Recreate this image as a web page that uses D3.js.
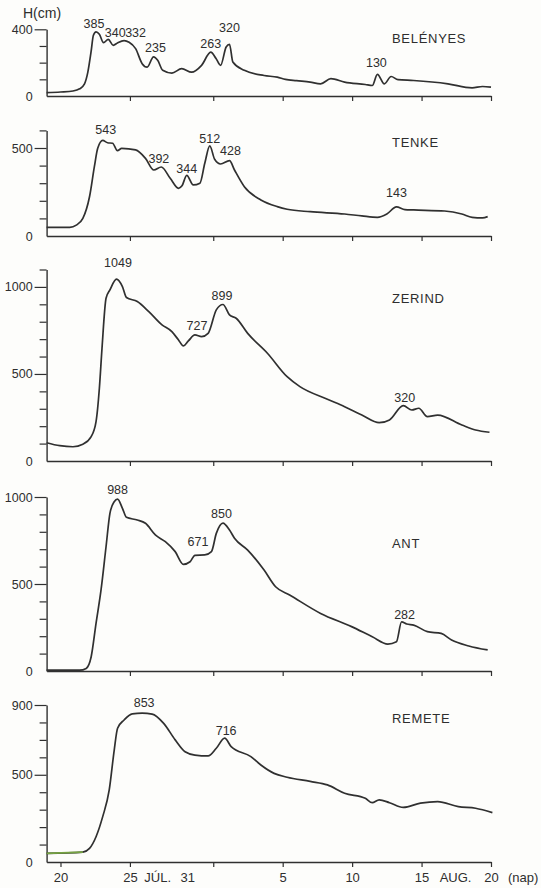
<!DOCTYPE html>
<html>
<head>
<meta charset="utf-8">
<script src="https://cdn.jsdelivr.net/npm/d3@7"></script>
<style>
  body { margin: 0; background: #fdfdfb; }
  svg { display: block; }
  text { font-family: "Liberation Sans", Arial, sans-serif; fill: #2e2e2e; }
</style>
</head>
<body>
<svg id="chart"></svg>
<script>
// days are counted from 1 July (so Aug 1 = 32, Aug 20 = 51)
// water level H in cm
const belenyes = [
  [19.0, 20], [20.0, 24], [20.9, 30], [21.38, 43], [21.73, 73], [21.97, 143], [22.2, 264],
  [22.37, 364], [22.56, 385], [22.8, 370], [23.1, 320], [23.44, 340], [23.8, 304], [24.1, 318],
  [24.58, 332], [24.94, 322], [25.41, 284], [25.88, 194], [26.24, 173], [26.7, 235], [27.0, 214],
  [27.36, 154], [28.02, 137], [28.73, 164], [29.44, 143], [30.16, 184], [30.82, 263], [31.2, 225],
  [31.53, 184], [31.93, 294], [32.17, 310], [32.41, 204], [33.24, 154], [34.66, 123], [35.61, 113],
  [36.2, 100], [37.0, 92], [37.98, 83], [38.73, 73], [39.47, 104], [40.46, 83], [41.95, 69],
  [42.45, 63], [42.82, 130], [43.32, 73], [43.81, 117], [44.3, 98], [45.43, 93], [47.9, 73],
  [49.64, 49], [50.39, 57], [51.0, 53]
];
const tenke = [
  [19.0, 49], [20.67, 49], [21.14, 62], [21.61, 100], [22.09, 223], [22.44, 394], [22.68, 498],
  [23.04, 543], [23.39, 530], [23.75, 527], [24.1, 485], [24.41, 498], [25.41, 489], [26.12, 441],
  [26.72, 375], [27.26, 392], [27.9, 328], [28.5, 271], [28.75, 285], [29.09, 344], [29.56, 290],
  [30.04, 300], [30.39, 413], [30.75, 512], [31.1, 436], [31.53, 409], [32.17, 428], [32.53, 375],
  [33.24, 280], [34.43, 205], [35.61, 167], [36.32, 152], [37.98, 138], [40.46, 125], [41.7, 114],
  [42.82, 106], [43.5, 125], [44.19, 165], [44.8, 150], [45.43, 148], [47.66, 142], [48.9, 125],
  [49.64, 106], [50.39, 103], [50.76, 110]
];
const zerind = [
  [19.0, 105], [19.95, 88], [20.9, 82], [21.61, 96], [22.21, 140], [22.56, 226], [22.8, 418],
  [22.99, 648], [23.28, 935], [23.56, 983], [24.03, 1045], [24.46, 1002], [24.75, 939], [25.53, 916],
  [26.36, 858], [27.31, 782], [28.02, 743], [28.5, 695], [28.85, 661], [29.21, 690], [29.68, 724],
  [30.16, 714], [30.63, 733], [31.22, 868], [31.7, 899], [32.17, 839], [32.65, 820], [33.48, 733],
  [34.9, 619], [36.32, 484], [37.24, 427], [39.22, 355], [40.46, 312], [41.7, 264], [42.95, 220],
  [43.69, 236], [44.68, 318], [45.3, 293], [45.8, 303], [46.42, 255], [47.16, 264], [48.9, 207],
  [49.89, 178], [50.89, 165]
];
const ant = [
  [19.0, 5], [21.38, 5], [21.85, 15], [22.21, 82], [22.56, 274], [22.92, 466], [23.28, 714],
  [23.56, 906], [23.87, 973], [24.11, 988], [24.46, 935], [24.75, 883], [25.53, 868], [26.12, 849],
  [26.83, 782], [27.55, 743], [28.26, 686], [28.85, 613], [29.33, 628], [29.68, 665], [30.39, 667],
  [30.87, 686], [31.22, 791], [31.7, 850], [32.17, 810], [32.53, 763], [33.48, 695], [34.66, 580],
  [35.49, 484], [36.5, 437], [38.73, 331], [40.96, 255], [42.45, 197], [43.57, 155], [44.19, 168],
  [44.56, 282], [44.93, 270], [45.43, 264], [46.42, 226], [47.41, 216], [48.16, 178], [49.4, 144],
  [50.76, 121]
];
const remete = [
  [19.0, 50], [21.61, 57], [22.09, 78], [22.56, 145], [23.04, 260], [23.51, 413], [23.87, 642],
  [24.11, 767], [24.58, 814], [25.17, 849], [25.88, 853], [26.6, 848], [27.43, 795], [28.26, 700],
  [28.97, 632], [29.68, 613], [30.63, 608], [31.22, 652], [31.82, 710], [32.29, 661], [33.71, 604],
  [34.43, 556], [35.38, 508], [36.32, 486], [37.98, 462], [39.22, 442], [40.46, 394], [41.95, 365],
  [42.45, 340], [42.95, 356], [43.69, 340], [44.68, 313], [45.92, 337], [47.16, 346], [48.65, 317],
  [49.89, 308], [51.1, 283]
];

// labelled peaks: [day, H]
const belenyesPeaks = [[22.56, 385], [23.44, 340], [24.58, 332], [26.7, 235], [30.82, 263], [32.17, 320], [42.82, 130]];
const tenkePeaks = [[23.04, 543], [27.26, 392], [29.09, 344], [30.75, 512], [32.17, 428], [44.19, 143]];
const zerindPeaks = [[24.03, 1049], [29.68, 727], [31.7, 899], [44.68, 320]];
const antPeaks = [[24.11, 988], [29.68, 671], [31.7, 850], [44.56, 282]];
const remetePeaks = [[25.88, 853], [31.82, 716]];

// x axis
const tickDays = [25, 31, 36, 41, 46, 51];
const bottomTickDays = [20, 25, 31, 36, 41, 46, 51];
const bottomTickLabels = ["20", "25", "31", "5", "10", "15", "20"];
const monthLabels = ["JÚL.", "AUG."];
const monthDays = [27.0, 48.45];

// label nudges [dx, dy] (layout only)
const nudges = {
  belenyes: [[-2, 0.7], [7, 2.4], [11.5, 1], [2, 0], [0, 1], [0, -6], [-1, -2.6]],
  tenke: [[3, -1.4], [-2.4, 0.7], [0, 2.8], [0, 2.4], [1, -0.7], [0, -8.5]],
  zerind: [[1.5, -6], [2, 0.6], [-1, 0.5], [1.5, 1.4]],
  ant: [[0, 0], [3, -3.2], [-1.5, 0], [3, 2.4]],
  remete: [[2, -0.9], [1.5, 2.9]]
};

const panels = [
  { key: "belenyes", name: "BELÉNYES", data: belenyes, peaks: belenyesPeaks, top: 400, y0: 96, yTop: 29.3, labeled: [0, 400], nameY: 43 },
  { key: "tenke", name: "TENKE", data: tenke, peaks: tenkePeaks, top: 600, y0: 236, yTop: 130.4, labeled: [0, 500], nameY: 147.3 },
  { key: "zerind", name: "ZERIND", data: zerind, peaks: zerindPeaks, top: 1100, y0: 461, yTop: 269.5, labeled: [0, 500, 1000], nameY: 303 },
  { key: "ant", name: "ANT", data: ant, peaks: antPeaks, top: 1000, y0: 671, yTop: 497, labeled: [0, 500, 1000], nameY: 548 },
  { key: "remete", name: "REMETE", data: remete, peaks: remetePeaks, top: 900, y0: 862, yTop: 705, labeled: [0, 500, 900], nameY: 723 }
];

const width = 541, height = 888;
const ink = "#303030";

const svg = d3.select("#chart").attr("width", width).attr("height", height);

const x = d3.scaleLinear().domain([19, 51]).range([46.6, 491]);

svg.append("text")
  .attr("x", 23).attr("y", 18)
  .style("font-size", "14px")
  .text("H(cm)");

panels.forEach(function (p, i) {
  const last = i === panels.length - 1;
  const y = d3.scaleLinear().domain([0, p.top]).range([p.y0, p.yTop]);
  const g = svg.append("g");

  // left axis
  const yAxis = g.append("g")
    .attr("transform", "translate(" + x.range()[0] + ",0)")
    .call(d3.axisLeft(y)
      .tickValues(d3.range(0, p.top + 1, 100))
      .tickSizeOuter(0)
      .tickFormat((d) => (p.labeled.includes(d) ? d : "")));
  yAxis.select(".domain").attr("stroke", ink).attr("stroke-width", 1.4);
  yAxis.selectAll(".tick line")
    .attr("stroke", ink).attr("stroke-width", 1.2)
    .attr("x2", (d) => (d === 0 ? 0 : p.labeled.includes(d) ? -12 : -7));
  yAxis.selectAll(".tick text")
    .attr("x", -14)
    .style("font-size", "12.5px")
    .style("font-family", "'Liberation Sans', Arial, sans-serif")
    .attr("fill", "#2e2e2e");

  // bottom axis
  const xAxis = g.append("g")
    .attr("transform", "translate(0," + p.y0 + ")")
    .call(d3.axisBottom(x)
      .tickValues(last ? bottomTickDays : tickDays)
      .tickSize(5)
      .tickSizeOuter(0)
      .tickFormat((d, j) => (last ? bottomTickLabels[j] : "")));
  xAxis.select(".domain").attr("stroke", ink).attr("stroke-width", 1.4);
  xAxis.selectAll(".tick line").attr("stroke", ink).attr("stroke-width", 1.2);
  xAxis.selectAll(".tick text")
    .attr("y", 10.5)
    .attr("x", (d) => (d === 31 ? -26 : 0))
    .style("font-size", "13px")
    .style("font-family", "'Liberation Sans', Arial, sans-serif")
    .attr("fill", "#2e2e2e");

  // hydrograph
  const line = d3.line()
    .x((d) => x(d[0]))
    .y((d) => y(d[1]))
    .curve(d3.curveMonotoneX);

  g.append("path")
    .datum(p.data)
    .attr("fill", "none")
    .attr("stroke", ink)
    .attr("stroke-width", 1.7)
    .attr("stroke-linejoin", "round")
    .attr("d", line);

  // the REMETE base flow is drawn in green ink on the sheet
  if (p.key === "remete") {
    g.append("path")
      .datum(p.data.filter((d) => d[0] <= 21.61))
      .attr("fill", "none")
      .attr("stroke", "#76a343")
      .attr("stroke-width", 1.7)
      .attr("d", line);
  }

  // peak values
  g.selectAll(".peak")
    .data(p.peaks)
    .enter()
    .append("text")
    .attr("x", (d, j) => x(d[0]) + nudges[p.key][j][0])
    .attr("y", (d, j) => y(d[1]) - 5 + nudges[p.key][j][1])
    .attr("text-anchor", "middle")
    .style("font-size", "12.5px")
    .text((d) => d[1]);

  // station name
  g.append("text")
    .attr("x", 392)
    .attr("y", p.nameY)
    .style("font-size", "13px")
    .style("letter-spacing", "0.7px")
    .text(p.name);

  if (last) {
    g.selectAll(".month")
      .data(monthLabels)
      .enter()
      .append("text")
      .attr("x", (d, j) => x(monthDays[j]))
      .attr("y", p.y0 + 19.7)
      .attr("text-anchor", "middle")
      .style("font-size", "13px")
      .text((d) => d);

    g.append("text")
      .attr("x", x(51) + 17)
      .attr("y", p.y0 + 19.7)
      .style("font-size", "13px")
      .text("(nap)");
  }
});
</script>
</body>
</html>
